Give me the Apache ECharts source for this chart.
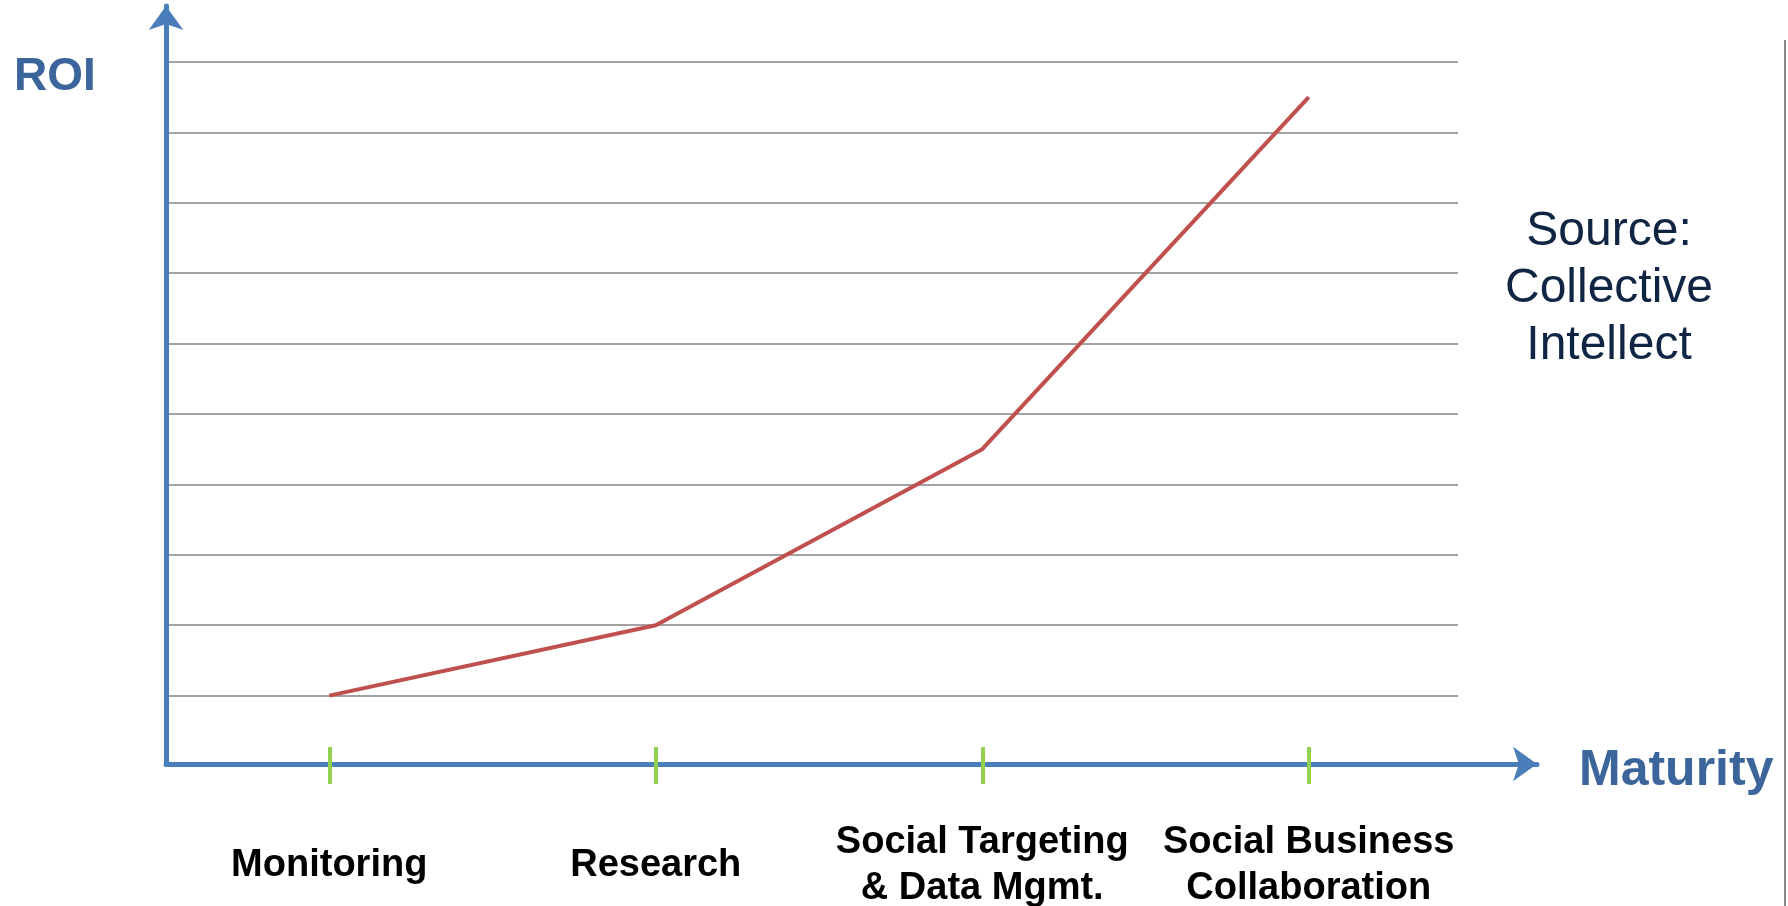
<!DOCTYPE html>
<html>
<head>
<meta charset="utf-8">
<script src="https://cdn.jsdelivr.net/npm/echarts@6/dist/echarts.min.js"></script>
<style>
  html, body { margin: 0; padding: 0; background: #fff; }
  #chart { width: 1788px; height: 906px; }
</style>
</head>
<body>
<div id="chart"></div>
<script>
// data
const stages = ["Monitoring", "Research", "Social Targeting\n& Data Mgmt.", "Social Business\nCollaboration"];
const roiValues = [1, 2, 4.5, 9.5];
const roiMin = 0;
const roiMax = 10;
const roiStep = 1;

const font = "'Liberation Sans', Arial, sans-serif";
const axisBlue = "#4a7ebb";
const labelBlue = "#3b659b";

const chart = echarts.init(document.getElementById("chart"));

// axis that only draws its line with an arrow
const arrowAxis = (gridIndex) => ({
  type: "value",
  gridIndex: gridIndex,
  min: 0,
  max: 1,
  axisLine: {
    show: true,
    symbol: ["none", "arrow"],
    symbolSize: [26, 24],
    lineStyle: { color: axisBlue, width: 5 }
  },
  axisTick: { show: false },
  axisLabel: { show: false },
  splitLine: { show: false }
});

// hidden axis
const hiddenAxis = (gridIndex, extra) => Object.assign({
  type: "value",
  gridIndex: gridIndex,
  axisLine: { show: false },
  axisTick: { show: false },
  axisLabel: { show: false },
  splitLine: { show: false }
}, extra);

const option = {
  backgroundColor: "#fff",
  animation: false,
  grid: [
    // plot area (line + category ticks)
    { left: 166, top: 62, width: 1306, bottom: 140, outerBoundsMode: "none", containLabel: false },
    // axis lines with arrows
    { left: 166, top: 6, right: 251, bottom: 142, outerBoundsMode: "none", containLabel: false },
    // horizontal grid lines
    { left: 166, top: 62, width: 1292, bottom: 140, outerBoundsMode: "none", containLabel: false }
  ],
  xAxis: [
    {
      type: "category",
      gridIndex: 0,
      data: stages,
      offset: -19,
      axisLine: { show: false },
      axisTick: {
        show: true,
        interval: 0,
        alignWithLabel: true,
        length: 37,
        lineStyle: { color: "#92d050", width: 4 }
      },
      axisLabel: {
        interval: 0,
        margin: 119,
        verticalAlign: "middle",
        align: "center",
        fontFamily: font,
        fontWeight: "bold",
        fontSize: 38,
        lineHeight: 46,
        color: "#000"
      },
      splitLine: { show: false }
    },
    arrowAxis(1),
    hiddenAxis(2, { min: 0, max: 1 })
  ],
  yAxis: [
    hiddenAxis(0, { min: roiMin, max: roiMax, interval: roiStep }),
    arrowAxis(1),
    hiddenAxis(2, {
      min: roiMin,
      max: roiMax,
      interval: roiStep,
      splitLine: { show: true, showMinLine: false, lineStyle: { color: "#a3a3a3", width: 2 } }
    })
  ],
  series: [
    {
      type: "line",
      xAxisIndex: 0,
      yAxisIndex: 0,
      data: roiValues,
      symbol: "none",
      lineStyle: { color: "#c0504d", width: 4 },
      z: 5
    }
  ],
  graphic: [
    {
      type: "text",
      left: 14,
      top: 54,
      style: { text: "ROI", fontFamily: font, fontWeight: "bold", fontSize: 46, fill: labelBlue }
    },
    {
      type: "text",
      left: 1579,
      top: 746,
      style: { text: "Maturity", fontFamily: font, fontWeight: "bold", fontSize: 50, fill: labelBlue }
    },
    {
      type: "text",
      x: 1609,
      y: 203,
      style: {
        text: "Source:\nCollective\nIntellect",
        fontFamily: font,
        fontSize: 48,
        lineHeight: 57,
        align: "center",
        fill: "#0f2543"
      }
    },
    {
      type: "line",
      shape: { x1: 1785, y1: 40, x2: 1785, y2: 906 },
      style: { stroke: "#8a8a8a", lineWidth: 2 }
    }
  ]
};

chart.setOption(option);
</script>
</body>
</html>
